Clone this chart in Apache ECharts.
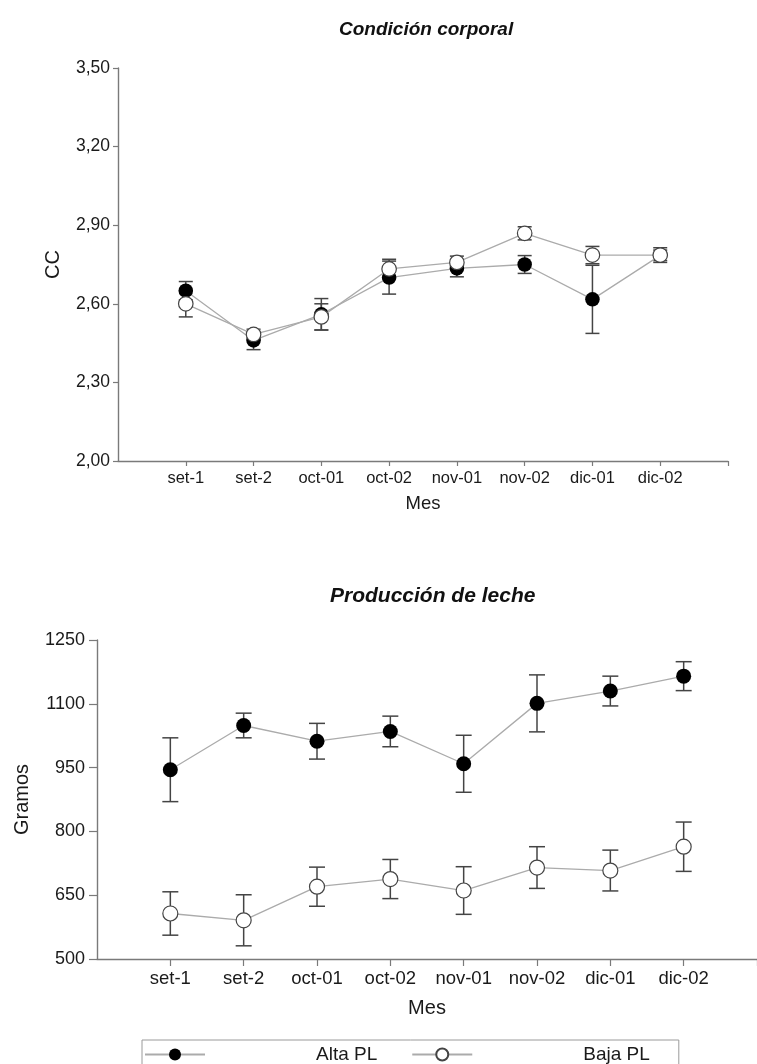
<!DOCTYPE html>
<html>
<head>
<meta charset="utf-8">
<script src="https://cdn.jsdelivr.net/npm/echarts@6/dist/echarts.min.js"></script>
<style>
html,body{margin:0;padding:0;background:#fff;}
#chart{width:757px;height:1064px;}
</style>
</head>
<body>
<div id="chart"></div>
<script>
// ---- data ----
const categories = ['set-1','set-2','oct-01','oct-02','nov-01','nov-02','dic-01','dic-02'];
const seriesNames = ['Alta PL', 'Baja PL'];

// Condición corporal (CC)
const ccAlta    = [2.65, 2.46, 2.56, 2.70, 2.735, 2.75, 2.617, 2.785];
const ccAltaErr = [0.035, 0.035, 0.06, 0.063, 0.032, 0.034, 0.13, 0.02];
const ccBaja    = [2.60, 2.483, 2.55, 2.733, 2.758, 2.869, 2.786, 2.786];
const ccBajaErr = [0.05, 0.02, 0.05, 0.037, 0.024, 0.025, 0.033, 0.028];
const ccTicks   = [2.00, 2.30, 2.60, 2.90, 3.20, 3.50];

// Producción de leche (Gramos)
const plAlta    = [945, 1049, 1012, 1035, 959, 1101, 1130, 1165];
const plAltaErr = [75, 29, 42, 36, 67, 67, 35, 34];
const plBaja    = [607, 591, 670, 688, 661, 715, 708, 764];
const plBajaErr = [51, 60, 46, 46, 56, 49, 48, 58];
const plTicks   = [500, 650, 800, 950, 1100, 1250];

// ---- helpers ----
const catPos = categories.map((c, i) => i + 1);
const pts = vals => vals.map((v, i) => [catPos[i], v]);
const errs = (vals, e) => vals.map((v, i) => [catPos[i], v - e[i], v + e[i]]);

const FONT = '"Liberation Sans", Arial, Helvetica, sans-serif';
const AXIS_COLOR = '#7a7a7a';
const TEXT_COLOR = '#1a1a1a';

function errRender(capW) {
  return function (params, api) {
    const x = api.value(0), lo = api.value(1), hi = api.value(2);
    const a = api.coord([x, lo]), b = api.coord([x, hi]);
    const st = { stroke: '#444', lineWidth: 1.5 };
    const h = capW / 2;
    return {
      type: 'group',
      children: [
        { type: 'line', shape: { x1: a[0], y1: a[1], x2: b[0], y2: b[1] }, style: st },
        { type: 'line', shape: { x1: b[0] - h, y1: b[1], x2: b[0] + h, y2: b[1] }, style: st },
        { type: 'line', shape: { x1: a[0] - h, y1: a[1], x2: a[0] + h, y2: a[1] }, style: st }
      ]
    };
  };
}

function xAxisCfg(gridIndex, labelSize, nameSize, nameGap, tickLen, margin) {
  return {
    gridIndex, type: 'value', min: 0, max: categories.length + 1,
    name: 'Mes', nameLocation: 'middle', nameGap,
    nameTextStyle: { fontFamily: FONT, fontSize: nameSize, color: TEXT_COLOR },
    axisLine: { show: true, lineStyle: { color: AXIS_COLOR, width: 1.4 } },
    axisTick: { show: true, length: tickLen, lineStyle: { color: AXIS_COLOR, width: 1.2 },
      customValues: catPos.concat([categories.length + 1]) },
    axisLabel: { fontFamily: FONT, fontSize: labelSize, color: TEXT_COLOR, margin,
      customValues: catPos, formatter: v => categories[Math.round(v) - 1] || '' },
    splitLine: { show: false }
  };
}

const chart = echarts.init(document.getElementById('chart'), null, { renderer: 'canvas' });

const option = {
  animation: false,
  backgroundColor: '#fff',
  title: [
    { text: 'Condición corporal', left: 334, top: 15,
      textStyle: { fontFamily: FONT, fontSize: 19, fontWeight: 'bold', fontStyle: 'italic', color: '#111' } },
    { text: 'Producción de leche', left: 325, top: 581,
      textStyle: { fontFamily: FONT, fontSize: 21, fontWeight: 'bold', fontStyle: 'italic', color: '#111' } }
  ],
  legend: {
    data: seriesNames,
    left: 142, top: 1040,
    orient: 'horizontal',
    itemWidth: 60, itemHeight: 15, itemGap: 34,
    padding: [5, 29, 30, 2],
    borderColor: '#9a9a9a', borderWidth: 1,
    selectedMode: false,
    formatter: name => '{s| }{t|' + name + '}',
    textStyle: {
      fontFamily: FONT, fontSize: 19, color: TEXT_COLOR,
      rich: { s: { width: 106, fontSize: 19 }, t: { fontFamily: FONT, fontSize: 19, color: TEXT_COLOR } }
    }
  },
  grid: [
    { left: 118, top: 68, width: 610, height: 393 },
    { left: 97, top: 640, width: 669, height: 319 }
  ],
  xAxis: [
    xAxisCfg(0, 16.5, 18.5, 33, 5, 9),
    xAxisCfg(1, 18.5, 20, 39, 7, 10)
  ],
  yAxis: [
    {
      gridIndex: 0, type: 'value', min: 2, max: 3.5,
      name: 'CC', nameLocation: 'middle', nameGap: 55,
      nameTextStyle: { fontFamily: FONT, fontSize: 20, color: TEXT_COLOR },
      axisLine: { show: true, lineStyle: { color: AXIS_COLOR, width: 1.4 } },
      axisTick: { show: true, length: 5, lineStyle: { color: AXIS_COLOR, width: 1.2 }, customValues: ccTicks },
      axisLabel: { fontFamily: FONT, fontSize: 17.5, color: TEXT_COLOR, margin: 8, customValues: ccTicks,
        formatter: v => v.toFixed(2).replace('.', ',') },
      splitLine: { show: false }
    },
    {
      gridIndex: 1, type: 'value', min: 500, max: 1250,
      name: 'Gramos', nameLocation: 'middle', nameGap: 65,
      nameTextStyle: { fontFamily: FONT, fontSize: 20, color: TEXT_COLOR },
      axisLine: { show: true, lineStyle: { color: AXIS_COLOR, width: 1.4 } },
      axisTick: { show: true, length: 8, lineStyle: { color: AXIS_COLOR, width: 1.2 }, customValues: plTicks },
      axisLabel: { fontFamily: FONT, fontSize: 18, color: TEXT_COLOR, margin: 12, customValues: plTicks,
        formatter: v => String(v) },
      splitLine: { show: false }
    }
  ],
  series: [
    // error bars
    { name: 'errCCAlta', type: 'custom', xAxisIndex: 0, yAxisIndex: 0, z: 2,
      renderItem: errRender(14), data: errs(ccAlta, ccAltaErr), silent: true },
    { name: 'errCCBaja', type: 'custom', xAxisIndex: 0, yAxisIndex: 0, z: 2,
      renderItem: errRender(14), data: errs(ccBaja, ccBajaErr), silent: true },
    { name: 'errPLAlta', type: 'custom', xAxisIndex: 1, yAxisIndex: 1, z: 2,
      renderItem: errRender(16), data: errs(plAlta, plAltaErr), silent: true },
    { name: 'errPLBaja', type: 'custom', xAxisIndex: 1, yAxisIndex: 1, z: 2,
      renderItem: errRender(16), data: errs(plBaja, plBajaErr), silent: true },
    // lines with markers
    { name: seriesNames[0], type: 'line', xAxisIndex: 0, yAxisIndex: 0, z: 3,
      data: pts(ccAlta), symbol: 'circle', symbolSize: 14.5,
      lineStyle: { color: '#ababab', width: 1.3 },
      itemStyle: { color: '#000', borderColor: '#000', borderWidth: 0 } },
    { name: seriesNames[1], type: 'line', xAxisIndex: 0, yAxisIndex: 0, z: 4,
      data: pts(ccBaja), symbol: 'circle', symbolSize: 14.5,
      lineStyle: { color: '#ababab', width: 1.3 },
      itemStyle: { color: '#fff', borderColor: '#444', borderWidth: 1.2 } },
    { name: seriesNames[0], type: 'line', xAxisIndex: 1, yAxisIndex: 1, z: 3,
      data: pts(plAlta), symbol: 'circle', symbolSize: 15,
      lineStyle: { color: '#ababab', width: 1.3 },
      itemStyle: { color: '#000', borderColor: '#000', borderWidth: 0 } },
    { name: seriesNames[1], type: 'line', xAxisIndex: 1, yAxisIndex: 1, z: 4,
      data: pts(plBaja), symbol: 'circle', symbolSize: 15,
      lineStyle: { color: '#ababab', width: 1.3 },
      itemStyle: { color: '#fff', borderColor: '#444', borderWidth: 1.2 } }
  ]
};
chart.setOption(option);
</script>
</body>
</html>
